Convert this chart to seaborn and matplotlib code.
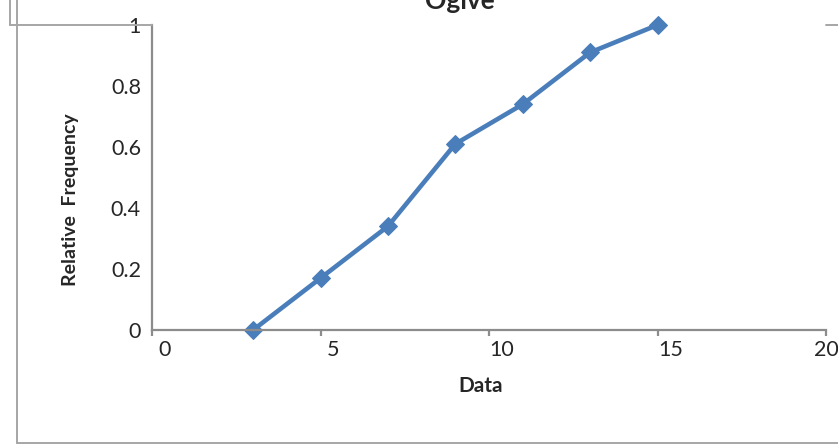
import matplotlib
matplotlib.use('Agg')
import matplotlib.pyplot as plt
from matplotlib.lines import Line2D
from matplotlib.transforms import ScaledTranslation
import seaborn as sns

# Ogive data (upper class limits vs cumulative relative frequency)
data_x = [3, 5, 7, 9, 11, 13, 15]
cum_rel_freq = [0.0, 0.17, 0.34, 0.61, 0.74, 0.91, 1.0]
x_ticks = [0, 5, 10, 15, 20]
y_ticks = [0, 0.2, 0.4, 0.6, 0.8, 1.0]
y_tick_labels = ['0', '0.2', '0.4', '0.6', '0.8', '1']

sns.set_style('white')
plt.rcParams['font.family'] = ['Lato', 'DejaVu Sans']

W, H = 838, 445
fig = plt.figure(figsize=(W / 100, H / 100), dpi=100)
ax = fig.add_axes([152 / W, 1 - 330 / H, (826 - 152) / W, (330 - 25) / H])

blue = '#4a7ebb'
sns.lineplot(x=data_x, y=cum_rel_freq, ax=ax, color=blue, linewidth=3.3,
             marker='D', markersize=9, markeredgecolor=blue, clip_on=False)

ax.set_xlim(0, 20)
ax.set_ylim(0, 1)
ax.set_xticks(x_ticks)
ax.set_xticklabels([str(t) for t in x_ticks])
ax.set_yticks(y_ticks)
ax.set_yticklabels(y_tick_labels)
ax.set_xlabel('')
ax.set_ylabel('')

axis_grey = '#8c8c8c'
for side in ['top', 'right']:
    ax.spines[side].set_visible(False)
for side in ['left', 'bottom']:
    ax.spines[side].set_color(axis_grey)
    ax.spines[side].set_linewidth(1.6)

ax.tick_params(axis='x', direction='out', length=4, width=1.6, color=axis_grey,
               labelsize=15.5, pad=3, bottom=True)
ax.tick_params(axis='y', length=0, labelsize=15.5, pad=8)

# Excel-style label placement, shifted a bit right of the tick
for lbl in ax.get_xticklabels()[:-1]:
    lbl.set_transform(lbl.get_transform() + ScaledTranslation(0.13, 0, fig.dpi_scale_trans))

fig.text(70 / W, 1 - 200 / H, 'Relative  Frequency', rotation=90, ha='center',
         va='center', fontsize=14, fontweight='bold')
fig.text(481 / W, 1 - 386 / H, 'Data', ha='center', va='center',
         fontsize=15, fontweight='bold')
fig.text(460 / W, 1 - 9 / H, 'Ogive', ha='center', va='baseline',
         fontsize=19, fontweight='bold')

# chart frame pieces
frame_grey = '#a6a6a6'
frame = [
    ([10, 10], [0, 25]),
    ([10, 152], [25, 25]),
    ([17, 17], [0, 443]),
    ([17, 838], [443, 443]),
    ([826, 838], [25, 25]),
]
for xs, ys in frame:
    fig.add_artist(Line2D([x / W for x in xs], [1 - y / H for y in ys],
                          transform=fig.transFigure, color=frame_grey, lw=1.4))

fig.savefig('out.png', dpi=100)
